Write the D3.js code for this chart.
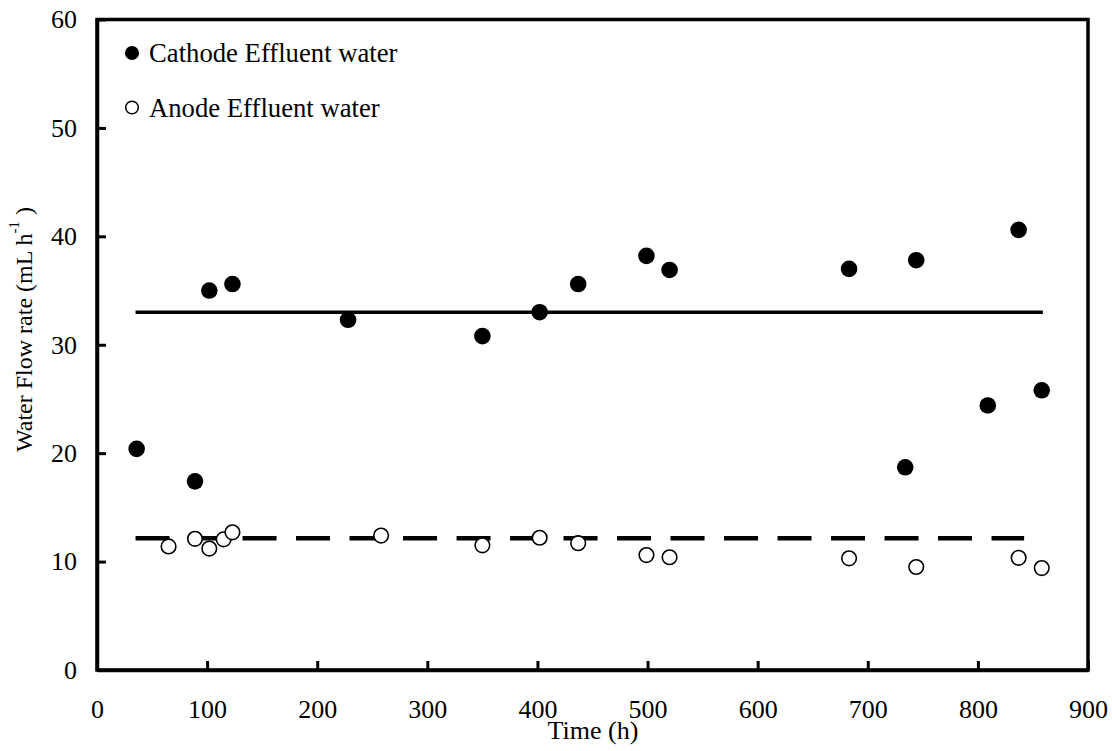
<!DOCTYPE html>
<html>
<head>
<meta charset="utf-8">
<script src="https://cdn.jsdelivr.net/npm/d3@7"></script>
<style>
  html, body { margin: 0; padding: 0; background: #fff; }
  svg { display: block; }
  text { font-family: "Liberation Serif", "Times New Roman", serif; fill: #000; }
</style>
</head>
<body>
<svg id="chart" width="1112" height="751"></svg>
<script>
// ---- data ----
const cathodeTime = [36, 89, 102, 123, 228, 350, 402, 437, 499, 520, 683, 734, 744, 809, 837, 858];
const cathodeFlow = [20.4, 17.4, 35.0, 35.6, 32.3, 30.8, 33.0, 35.6, 38.2, 36.9, 37.0, 18.7, 37.8, 24.4, 40.6, 25.8];
const anodeTime = [65, 89, 102, 115, 123, 258, 350, 402, 437, 499, 520, 683, 744, 837, 858];
const anodeFlow = [11.4, 12.1, 11.2, 12.05, 12.7, 12.4, 11.5, 12.2, 11.7, 10.6, 10.4, 10.3, 9.5, 10.35, 9.4];
const cathodeMean = [33.0, 33.0];
const cathodeMeanTime = [35, 859];
const anodeMean = [12.15, 12.15];
const anodeMeanTime = [35, 842];
const xTicks = [0, 100, 200, 300, 400, 500, 600, 700, 800, 900];
const yTicks = [0, 10, 20, 30, 40, 50, 60];
const legendLabels = ["Cathode Effluent water", "Anode Effluent water"];

// ---- layout ----
const svg = d3.select("#chart");
const L = 97, R = 1088, T = 19.5, B = 670;
const x = d3.scaleLinear().domain([0, 900]).range([L, R]);
const y = d3.scaleLinear().domain([0, 60]).range([B, T]);
const FONT = '"Liberation Serif", "Times New Roman", serif';

// frame
svg.append("rect")
  .attr("x", L).attr("y", T).attr("width", R - L).attr("height", B - T)
  .attr("fill", "none").attr("stroke", "#000").attr("stroke-width", 3.5);

// axes
const xAxis = svg.append("g").attr("transform", `translate(0,${B})`)
  .call(d3.axisBottom(x).tickValues(xTicks).tickSizeInner(-9).tickSizeOuter(0).tickPadding(30).tickFormat(d3.format("d")));
const yAxis = svg.append("g").attr("transform", `translate(${L},0)`)
  .call(d3.axisLeft(y).tickValues(yTicks).tickSizeInner(-9).tickSizeOuter(0).tickPadding(20).tickFormat(d3.format("d")));

[xAxis, yAxis].forEach(g => {
  g.select(".domain").attr("stroke", "#000").attr("stroke-width", 3.5);
  g.selectAll(".tick line").attr("stroke", "#000").attr("stroke-width", 3);
  g.selectAll(".tick text").attr("font-size", 26).style("font-family", FONT);
});

// mean lines
const line = d3.line().x(d => x(d[0])).y(d => y(d[1]));
svg.append("path")
  .datum(d3.zip(cathodeMeanTime, cathodeMean))
  .attr("d", line).attr("fill", "none").attr("stroke", "#000").attr("stroke-width", 3.5);
svg.append("path")
  .datum(d3.zip(anodeMeanTime, anodeMean))
  .attr("d", line).attr("fill", "none").attr("stroke", "#000").attr("stroke-width", 4.5)
  .attr("stroke-dasharray", "34 19.5");

// points
svg.append("g").selectAll("circle")
  .data(d3.zip(cathodeTime, cathodeFlow))
  .join("circle")
  .attr("cx", d => x(d[0])).attr("cy", d => y(d[1])).attr("r", 8.3)
  .attr("fill", "#000");
svg.append("g").selectAll("circle")
  .data(d3.zip(anodeTime, anodeFlow))
  .join("circle")
  .attr("cx", d => x(d[0])).attr("cy", d => y(d[1])).attr("r", 7.3)
  .attr("fill", "#fff").attr("stroke", "#000").attr("stroke-width", 1.6);

// legend
const leg = svg.append("g");
leg.append("circle").attr("cx", 132).attr("cy", 53).attr("r", 7).attr("fill", "#000");
leg.append("circle").attr("cx", 132).attr("cy", 107.5).attr("r", 6.3)
  .attr("fill", "#fff").attr("stroke", "#000").attr("stroke-width", 1.5);
legendLabels.forEach((lab, i) => {
  leg.append("text")
    .attr("x", 149).attr("y", [62, 117][i])
    .attr("font-size", 26.7).text(lab);
});

// axis titles
svg.append("text")
  .attr("x", 593).attr("y", 739)
  .attr("text-anchor", "middle").attr("font-size", 26).text("Time (h)");

const yt = svg.append("text")
  .attr("transform", `translate(32,207) rotate(-90)`)
  .attr("text-anchor", "end").attr("font-size", 24);
yt.append("tspan").text("Water Flow rate (mL h");
yt.append("tspan").attr("dy", -13).attr("font-size", 15).text("-1");
yt.append("tspan").attr("dy", 13).text(" )");
</script>
</body>
</html>
